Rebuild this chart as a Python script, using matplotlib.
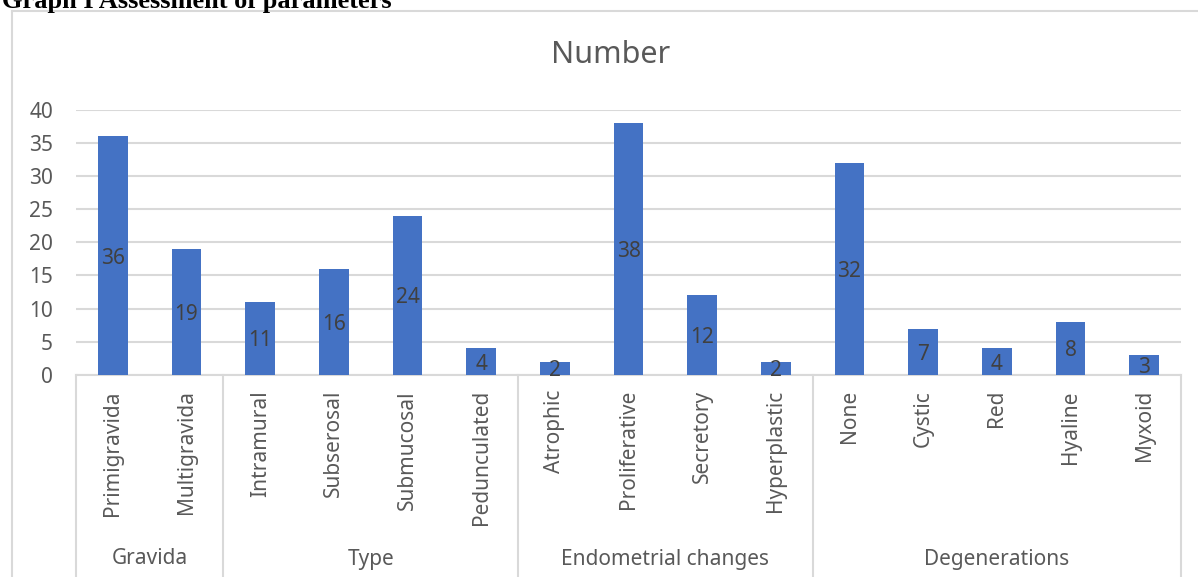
import matplotlib
matplotlib.use("Agg")
import matplotlib.pyplot as plt
from matplotlib.lines import Line2D
from matplotlib.transforms import blended_transform_factory

plt.rcParams['font.family'] = ['Noto Sans', 'DejaVu Sans']

groups = ['Gravida', 'Type', 'Endometrial changes', 'Degenerations']
group_items = [
    ['Primigravida', 'Multigravida'],
    ['Intramural', 'Subserosal', 'Submucosal', 'Pedunculated'],
    ['Atrophic', 'Proliferative', 'Secretory', 'Hyperplastic'],
    ['None', 'Cystic', 'Red', 'Hyaline', 'Myxoid'],
]
numbers = [36, 19, 11, 16, 24, 4, 2, 38, 12, 2, 32, 7, 4, 8, 3]

categories = [c for items in group_items for c in items]
x = list(range(len(categories)))

bar_color = '#4472C4'
text_grey = '#595959'
line_grey = '#D9D9D9'

fig = plt.figure(figsize=(11.98, 5.77), dpi=100)
ax = fig.add_axes([76 / 1198, 1 - 375 / 577, (1181 - 76) / 1198, (375 - 109.5) / 577])

ax.bar(x, numbers, width=0.4, color=bar_color, zorder=3)
for xi, v in zip(x, numbers):
    ax.text(xi, v / 2, str(v), ha='center', va='center_baseline', fontsize=15,
            color='#404040', zorder=4)

ax.set_xlim(-0.5, len(categories) - 0.5)
ax.set_ylim(0, 40)
ax.set_yticks(range(0, 41, 5))
ax.yaxis.grid(True, color=line_grey, linewidth=1.5, zorder=0)
ax.tick_params(axis='y', length=0, labelsize=15, labelcolor=text_grey, pad=16.5)
ax.set_xticks([])
for side in ['top', 'right', 'left']:
    ax.spines[side].set_visible(False)
ax.spines['bottom'].set_color(line_grey)
ax.spines['bottom'].set_linewidth(1.5)

# two-level category axis below the plot
trans = blended_transform_factory(ax.transData, fig.transFigure)
for xi, name in zip(x, categories):
    ax.text(xi, 1 - 390 / 577, name, transform=trans, rotation=90,
            ha='center', va='top', fontsize=15, color=text_grey)

start = 0
bounds = [-0.5]
for g, items in zip(groups, group_items):
    end = start + len(items)
    ax.text((start + end - 1) / 2, 1 - 559 / 577, g, transform=trans,
            ha='center', va='center', fontsize=15, color=text_grey)
    bounds.append(end - 0.5)
    start = end
for b in bounds:
    fig.add_artist(Line2D([b, b], [0, 1 - 375 / 577], transform=trans,
                          color=line_grey, linewidth=1.5))

# chart frame
fig.add_artist(Line2D([12 / 1198, 12 / 1198], [0, 1 - 11 / 577],
                      color=line_grey, linewidth=1.5))
fig.add_artist(Line2D([12 / 1198, 1], [1 - 11 / 577, 1 - 11 / 577],
                      color=line_grey, linewidth=1.5))

fig.text(611 / 1198, 1 - 55 / 577, 'Number', ha='center', va='center',
         fontsize=22, color=text_grey)

fig.text(2 / 1198, 1 - 8 / 577, 'Graph I Assessment of parameters',
         ha='left', va='baseline', fontsize=19, fontweight='bold',
         family='Liberation Serif', color='black')

fig.savefig('out.png', dpi=100)
